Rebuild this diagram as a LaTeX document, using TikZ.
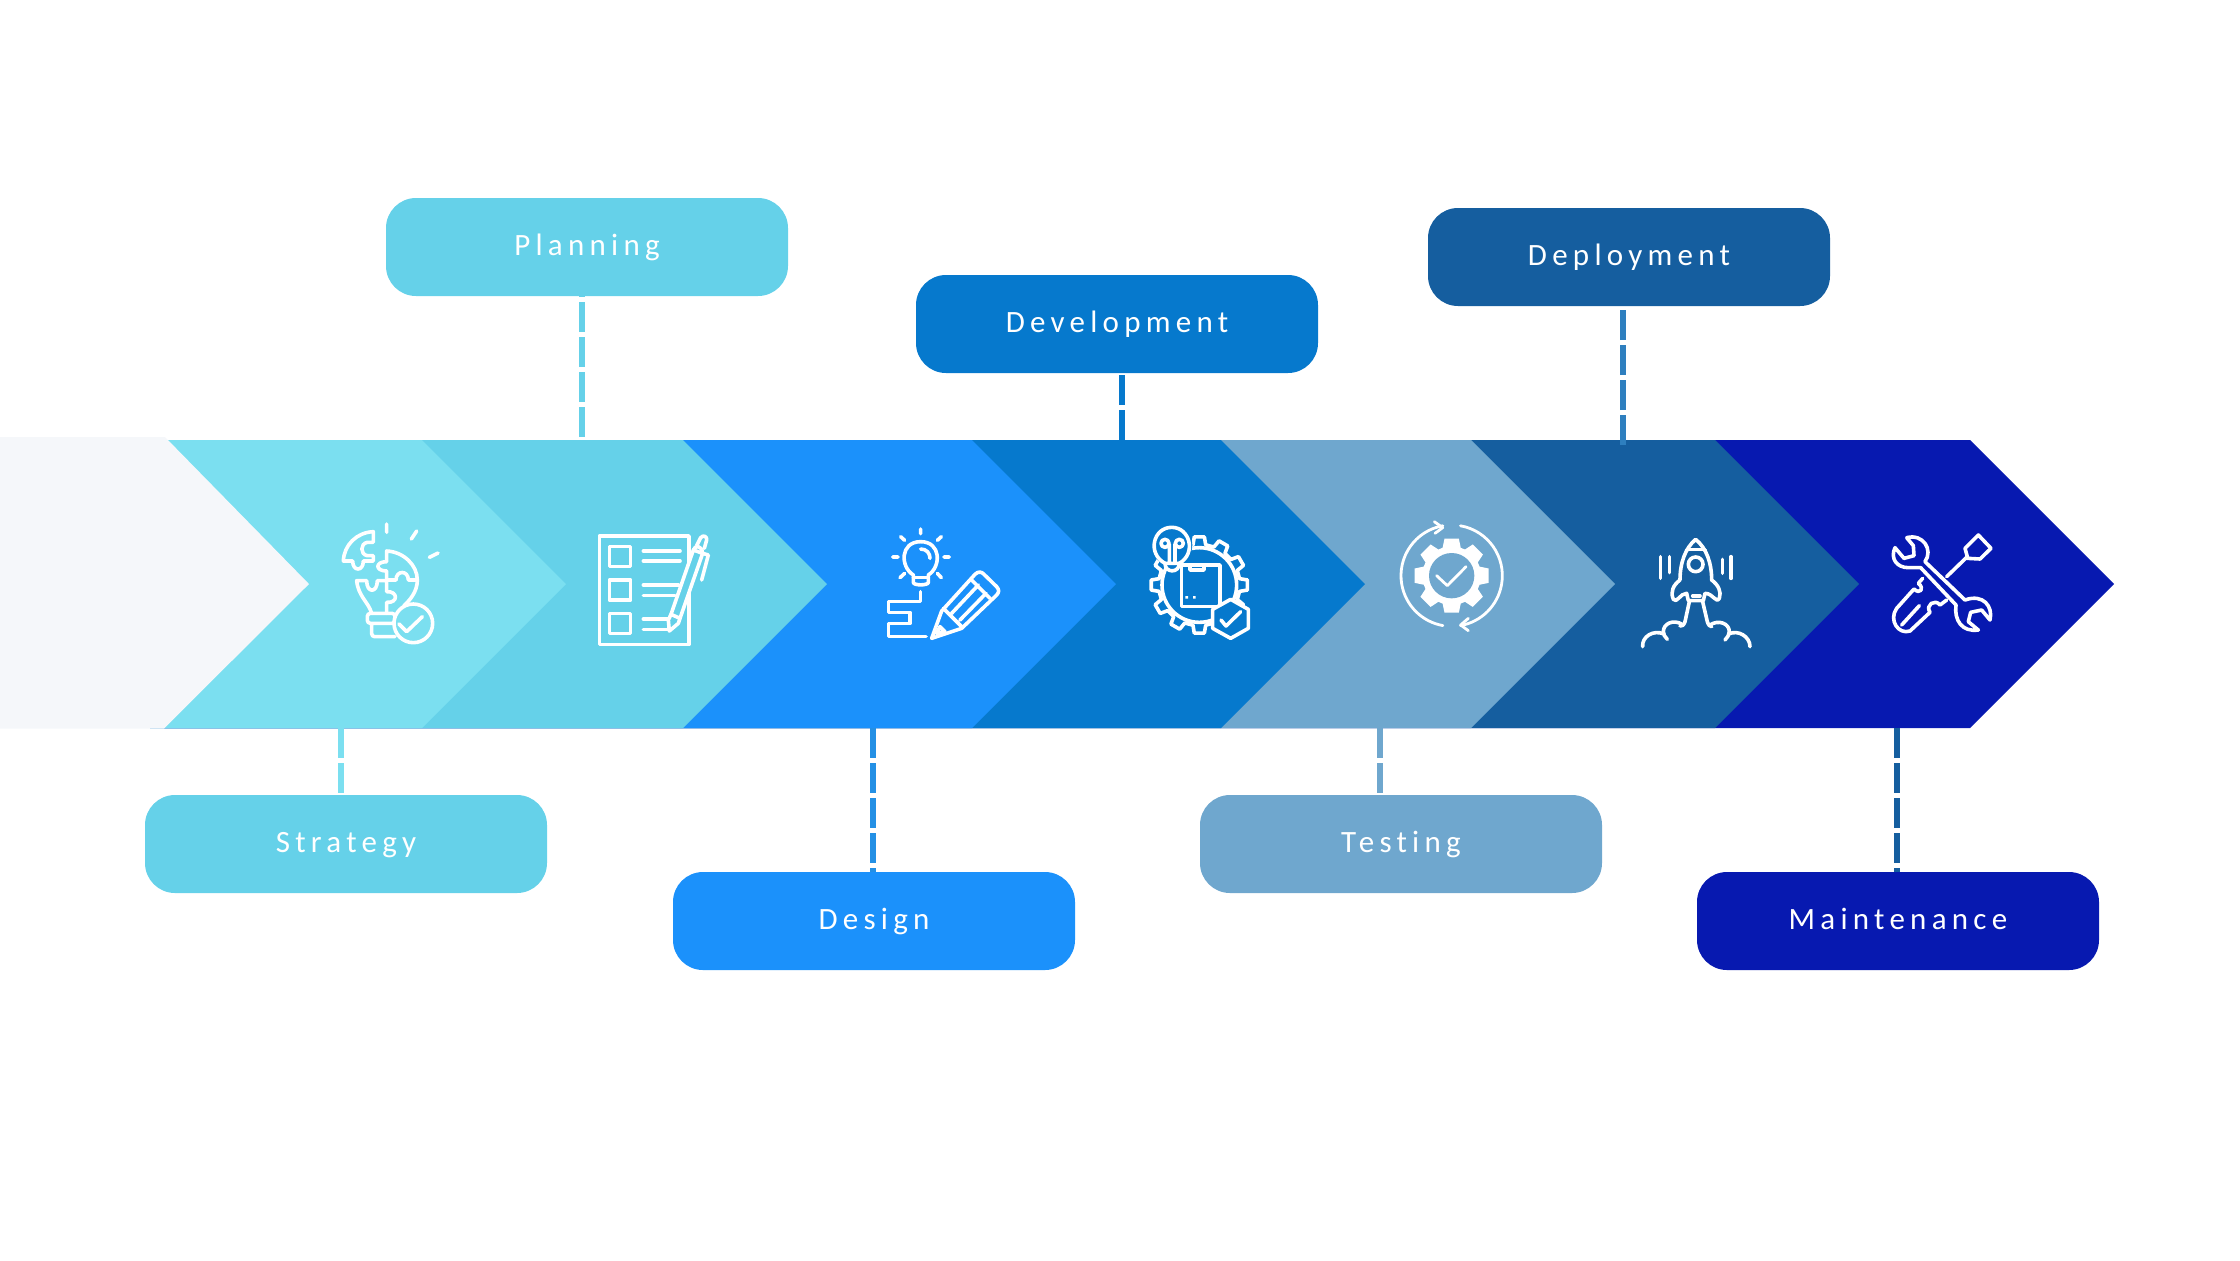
\documentclass[tikz,border=0pt]{standalone}
\usepackage{fontspec}
\setmainfont{Carlito}
\newfontfamily\labelfont[LetterSpace=17,Ligatures=NoCommon]{Carlito}
\usepackage{pgf,tikz}
\usetikzlibrary{positioning,calc}
\definecolor{cstrategy}{HTML}{7BDFF0}
\definecolor{cplanning}{HTML}{65D1E9}
\definecolor{cdesign}{HTML}{1B91FB}
\definecolor{cdevelop}{HTML}{0679CD}
\definecolor{ctesting}{HTML}{6FA7CE}
\definecolor{cdeploy}{HTML}{155E9F}
\definecolor{cmaint}{HTML}{0719B0}
\definecolor{cgrey}{HTML}{F5F7FA}
\definecolor{cdesignlink}{HTML}{2490E5}
\definecolor{cdeploylink}{HTML}{2E7FBF}
\tikzset{
    stage/.style={fill=#1, minimum width=201pt, minimum height=49pt, rounded corners=15pt, inner sep=0pt, text=white, text height=10pt, text depth=2pt, font=\labelfont\fontsize{15.5}{18}\selectfont},
    link/.style={draw=#1, line width=2.6pt, dash pattern=on 15pt off 2.5pt},
    iconline/.style={draw=white, line width=1.8pt, line cap=round, line join=round},
    iconat/.style={shift={#1}, scale=1/3}
}
\begin{document}
\begin{tikzpicture}[x=0.5pt,y=-0.5pt]
    \useasboundingbox (0,0) rectangle (2240,1260);
    \foreach \tip/\col in {2114/cmaint, 1859/cdeploy, 1615/ctesting, 1365/cdevelop, 1116/cdesign, 827/cplanning, 566/cstrategy}
        \fill[\col] (150,440) -- (\tip-144,440) -- (\tip,584) -- (\tip-144,728) -- (150,728) -- cycle;
    \fill[cgrey] (0,437) -- (165,437) -- (309,584) -- (164,728.5) -- (0,728.5) -- cycle;

    \node[stage=cplanning] (strategy) at (346,844) {Strategy};
    \node[stage=cplanning] (planning) at (587,247) {Planning};
    \node[stage=cdesign] (design) at (874,921) {Design};
    \node[stage=cdevelop] (development) at (1117,324) {Development};
    \node[stage=ctesting] (testing) at (1401,844) {Testing};
    \node[stage=cdeploy] (deployment) at (1629,257) {Deployment};
    \node[stage=cmaint] (maintenance) at (1898,921) {Maintenance};

    \coordinate (strategyend) at (341,728);
    \coordinate (planningend) at (582,437);
    \coordinate (designend) at (873,728);
    \coordinate (developmentend) at (1122,440);
    \coordinate (testingend) at (1380,728);
    \coordinate (deploymentend) at (1623,445);
    \coordinate (maintenanceend) at (1897,728);
    \path [link=cstrategy](strategyend) edge node {} (strategyend |- strategy.north);
    \path [link=cplanning](planningend) edge node {} (planningend |- planning.south);
    \path [link=cdesignlink](designend) edge node {} (designend |- design.north);
    \path [link=cdevelop](developmentend) edge node {} (developmentend |- development.south);
    \path [link=ctesting](testingend) edge node {} (testingend |- testing.north);
    \path [link=cdeploylink](deploymentend) edge node {} (deploymentend |- deployment.south);
    \path [link=cdeploy](maintenanceend) edge node {} (maintenanceend |- maintenance.north);

    \begin{scope}[iconat={(330,515)}]
        \draw[iconline] (170,27) -- (170,52) (260,48) -- (244,72) (324,114) -- (298,127);
        \draw[iconline] (130,50) .. controls (80,52) and (42,90) .. (40,138) -- (68,138) .. controls (68,170) and (100,170) .. (100,138) -- (130,138) -- (130,122) -- (112,122) .. controls (90,118) and (90,86) .. (112,82) -- (130,82) -- cycle;
        \draw[iconline] (170,108) .. controls (220,110) and (262,150) .. (262,195) -- (235,195) .. controls (235,165) and (198,165) .. (198,195) -- (170,195) -- (170,168) .. controls (135,168) and (135,140) .. (170,140) -- cycle;
        \draw[iconline] (125,295) .. controls (115,260) and (85,245) .. (80,197) -- (110,197) .. controls (110,235) and (142,235) .. (142,197) -- (170,197) -- (170,230) .. controls (205,228) and (205,265) .. (170,262) -- (170,295);
        \draw[iconline] (262,195) .. controls (262,230) and (240,255) .. (222,272);
        \draw[iconline, rounded corners=1.5pt] (112,295) rectangle (195,325) (125,325) -- (125,365) -- (195,365);
        \draw[iconline, fill=cstrategy] (250,325) circle (58);
        \draw[iconline] (207,327) -- (230,350) -- (277,305);
    \end{scope}

    \begin{scope}[iconat={(590,525)}]
        \draw[iconline] (28,33) rectangle (297,358);
        \draw[iconline] (58,65) rectangle (122,125) (58,165) rectangle (122,225) (58,265) rectangle (122,325);
        \draw[iconline] (160,78) -- (270,78) (160,108) -- (270,108) (160,180) -- (265,180) (160,212) -- (255,212) (160,282) -- (240,282) (160,313) -- (235,313);
        \draw[iconline, fill=cplanning] (310,75) -- (243,268) -- (235,285) -- (238,318) -- (265,295) -- (270,280) -- (338,85) -- cycle;
        \draw[iconline] (243,268) -- (270,280);
        \draw[iconline] (320,62) -- (332,38) .. controls (340,28) and (352,35) .. (350,45) -- (343,70);
        \draw[iconline] (310,75) .. controls (315,60) and (335,60) .. (338,85) -- (355,90) -- (335,165);
    \end{scope}

    \begin{scope}[iconat={(880,525)}]
        \draw[iconline] (122,12) -- (122,26) (62,35) -- (74,46) (184,35) -- (172,46) (38,96) -- (54,96) (192,96) -- (208,96) (60,158) -- (74,145) (184,158) -- (172,145);
        \draw[iconline] (100,150) .. controls (60,125) and (60,50) .. (122,50) .. controls (184,50) and (184,125) .. (145,150) -- (145,172) .. controls (145,182) and (100,182) .. (100,172) -- cycle;
        \draw[iconline] (100,158) -- (145,158);
        \draw[iconline] (122,72) .. controls (140,72) and (150,85) .. (150,100);
        \draw[iconline] (122,200) -- (122,230) -- (25,230) -- (25,262) -- (90,262) -- (90,295) -- (25,295) -- (25,335) -- (138,335);
        \draw[iconline] (155,340) -- (185,258) -- (285,148) .. controls (295,138) and (305,140) .. (312,148) -- (350,185) .. controls (358,195) and (358,200) .. (350,210) -- (245,310) -- cycle;
        \draw[iconline] (190,250) -- (245,305) (275,165) -- (330,220) (215,265) -- (295,180) (240,285) -- (318,205);
        \draw[iconline] (170,325) -- (180,305) -- (195,320) -- cycle;
    \end{scope}

    \begin{scope}[iconat={(1140,520)}]
        \draw[iconline] ($(178,195)+(-6:145)$) \foreach \a in {0,30,...,330} {
            -- ($(178,195)+(\a-6:145)$) -- ($(178,195)+(\a+6:145)$) -- ($(178,195)+(\a+9:122)$) -- ($(178,195)+(\a+21:122)$)
        } -- cycle;
        \draw[iconline] (178,195) circle (112);
        \fill[cdevelop] (95,75) circle (62);
        \draw[iconline, fill=cdevelop] (75,130) .. controls (20,100) and (40,22) .. (95,22) .. controls (150,22) and (170,100) .. (118,130) .. controls (118,160) and (75,160) .. (75,130) -- cycle;
        \draw[iconline] (75,70) circle (12) (118,70) circle (12) (88,72) -- (88,130) (105,72) -- (105,130) (75,130) -- (118,130);
        \draw[iconline] (125,135) rectangle (240,260) (150,135) -- (150,150) -- (192,150) -- (192,135);
        \fill[white] (136,228) rectangle (144,236) (159,228) rectangle (167,236);
        \draw[iconline, fill=cdevelop] (272,238) -- (325,268) -- (325,325) -- (272,355) -- (218,325) -- (218,268) -- cycle;
        \draw[iconline] (243,300) -- (258,318) -- (302,275);
    \end{scope}

    \begin{scope}[iconat={(1390,515)}]
        \fill[white] ($(185,182)+(-11:113)$) \foreach \a in {0,45,...,315} {
            -- ($(185,182)+(\a-11:113)$) -- ($(185,182)+(\a+11:113)$) -- ($(185,182)+(\a+18:88)$) -- ($(185,182)+(\a+27:88)$)
        } -- cycle;
        \fill[ctesting] (185,182) circle (68);
        \draw[iconline, line width=1.4pt] (140,182) -- (172,212) -- (228,155);
        \draw[iconline, line width=1.4pt] (185,182)++(260:152) arc (260:100:152);
        \draw[iconline, line width=1.4pt] (185,182)++(-80:152) arc (-80:80:152);
        \draw[iconline, line width=1.4pt] (133,20) -- (158,38) -- (135,55) (235,310) -- (212,330) -- (235,347);
    \end{scope}

    \begin{scope}[iconat={(1630,530)}]
        \draw[iconline] (150,150) .. controls (150,100) and (165,55) .. (197,28) .. controls (230,55) and (245,100) .. (245,150) .. controls (265,165) and (275,185) .. (268,205) .. controls (258,222) and (250,190) .. (225,190) -- (220,212) -- (175,212) -- (170,190) .. controls (150,190) and (140,222) .. (130,208) .. controls (120,185) and (130,165) .. (150,150);
        \draw[iconline] (170,58) -- (225,58) (188,198) -- (210,198);
        \draw[iconline] (197,103) circle (22);
        \draw[iconline] (92,80) -- (92,145) (118,80) -- (118,128) (278,88) -- (278,130) (303,80) -- (303,145);
        \draw[iconline] (178,215) -- (165,275) .. controls (162,285) and (155,290) .. (150,288) (218,215) -- (232,275) .. controls (235,285) and (240,290) .. (245,290);
        \draw[iconline] (155,282) .. controls (130,268) and (100,280) .. (100,305) .. controls (100,315) and (105,320) .. (112,328);
        \draw[iconline] (102,312) .. controls (70,298) and (35,320) .. (38,350);
        \draw[iconline] (240,285) .. controls (265,268) and (298,280) .. (298,305) .. controls (298,315) and (292,322) .. (285,330);
        \draw[iconline] (296,312) .. controls (325,298) and (360,320) .. (360,350);
    \end{scope}

    \begin{scope}[iconat={(1880,525)}]
        \draw[iconline] (80,38) -- (100,62) -- (102,92) -- (72,100) -- (45,68) .. controls (30,100) and (50,128) .. (85,128) -- (122,128) -- (228,240) .. controls (222,285) and (245,322) .. (295,315) -- (265,290) -- (272,262) -- (305,255) -- (330,285) .. controls (340,245) and (310,205) .. (255,225) -- (135,110) .. controls (160,75) and (130,25) .. (80,38);
        \draw[iconline] (200,155) -- (262,95) -- (255,70) -- (295,30) -- (333,70) -- (300,102) -- (262,100);
        \draw[iconline] (128,160) -- (115,175) .. controls (135,190) and (120,210) .. (102,192) -- (50,250) .. controls (25,285) and (55,330) .. (90,318) -- (150,262) .. controls (135,240) and (165,220) .. (180,240) -- (200,225);
        \draw[iconline] (118,242) -- (65,300);
    \end{scope}
\end{tikzpicture}
\end{document}
